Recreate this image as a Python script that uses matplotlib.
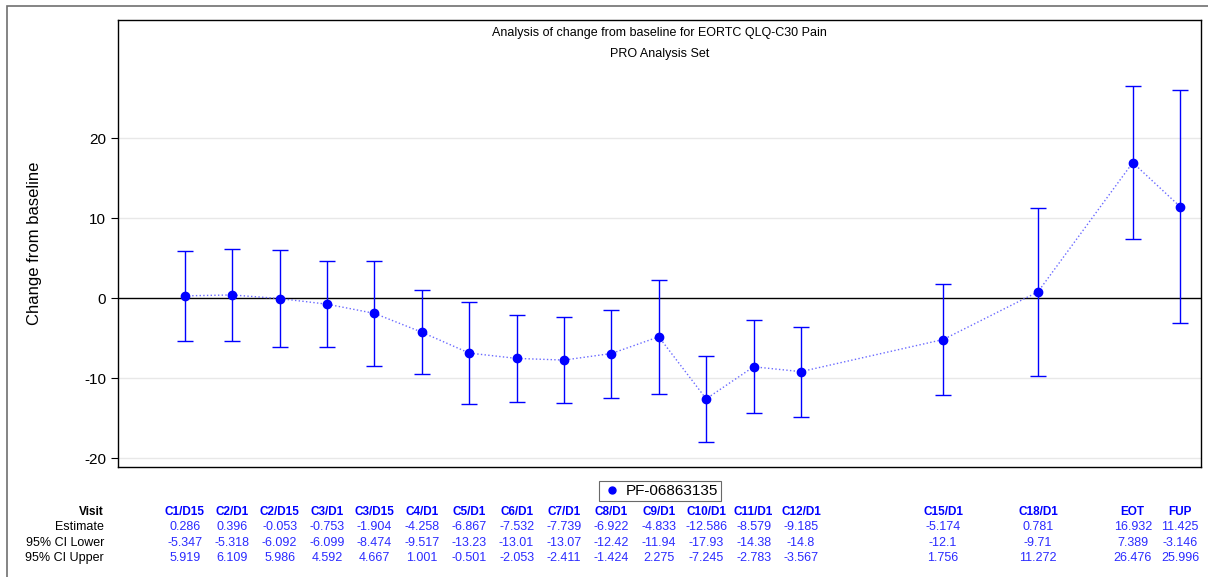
import matplotlib
matplotlib.use("Agg")
import matplotlib.pyplot as plt
from matplotlib.lines import Line2D
from matplotlib.patches import Rectangle

plt.rcParams["font.family"] = ["Liberation Sans", "DejaVu Sans"]
plt.rcParams["axes.unicode_minus"] = False

visits = ["C1/D15", "C2/D1", "C2/D15", "C3/D1", "C3/D15", "C4/D1", "C5/D1",
          "C6/D1", "C7/D1", "C8/D1", "C9/D1", "C10/D1", "C11/D1", "C12/D1",
          "C15/D1", "C18/D1", "EOT", "FUP"]
visit_pos = [0, 1, 2, 3, 4, 5, 6, 7, 8, 9, 10, 11, 12, 13, 16, 18, 20, 21]

estimate = [0.286, 0.396, -0.053, -0.753, -1.904, -4.258, -6.867, -7.532, -7.739,
            -6.922, -4.833, -12.586, -8.579, -9.185, -5.174, 0.781, 16.932, 11.425]
ci_lower = [-5.347, -5.318, -6.092, -6.099, -8.474, -9.517, -13.23, -13.01, -13.07,
            -12.42, -11.94, -17.93, -14.38, -14.8, -12.1, -9.71, 7.389, -3.146]
ci_upper = [5.919, 6.109, 5.986, 4.592, 4.667, 1.001, -0.501, -2.053, -2.411,
            -1.424, 2.275, -7.245, -2.783, -3.567, 1.756, 11.272, 26.476, 25.996]

est_txt = ["0.286", "0.396", "-0.053", "-0.753", "-1.904", "-4.258", "-6.867", "-7.532",
           "-7.739", "-6.922", "-4.833", "-12.586", "-8.579", "-9.185", "-5.174", "0.781",
           "16.932", "11.425"]
low_txt = ["-5.347", "-5.318", "-6.092", "-6.099", "-8.474", "-9.517", "-13.23", "-13.01",
           "-13.07", "-12.42", "-11.94", "-17.93", "-14.38", "-14.8", "-12.1", "-9.71",
           "7.389", "-3.146"]
up_txt = ["5.919", "6.109", "5.986", "4.592", "4.667", "1.001", "-0.501", "-2.053",
          "-2.411", "-1.424", "2.275", "-7.245", "-2.783", "-3.567", "1.756", "11.272",
          "26.476", "25.996"]

blue = "#0000ff"

fig = plt.figure(figsize=(12.08, 5.77), dpi=100)
ax = fig.add_axes([118 / 1208, 1 - 467 / 577, (1201 - 118) / 1208, (467 - 20) / 577])

# outer frame (left and top edge visible)
fig.add_artist(Rectangle((7 / 1208, -0.1), 1.2, 1 - 6 / 577 + 0.1, transform=fig.transFigure,
                         fill=False, edgecolor="#707070", linewidth=1.2))

yerr = [[e - l for e, l in zip(estimate, ci_lower)], [u - e for e, u in zip(estimate, ci_upper)]]
ax.plot(visit_pos, estimate, linestyle=":", color="#6a6aff", linewidth=1.0, zorder=3)
ax.errorbar(visit_pos, estimate, yerr=yerr, fmt="none", ecolor=blue, elinewidth=1.0,
            capsize=6, capthick=1.0, zorder=4)
ax.plot(visit_pos, estimate, "o", color=blue, markersize=6, zorder=5)

ax.axhline(0, color="black", linewidth=1.0, zorder=2)
for yv in [-20, -10, 10, 20]:
    ax.axhline(yv, color="#e8e8e8", linewidth=1.0, zorder=1)

ax.set_xlim(-1.41, 21.44)
ax.set_ylim(-21.1, 34.75)
ax.set_yticks([-20, -10, 0, 10, 20])
ax.set_xticks([])
ax.tick_params(axis="y", labelsize=11, length=5, width=0.8)
ax.set_ylabel("Change from baseline", fontsize=12)
ax.yaxis.set_label_coords((42 - 118) / 1083, 0.5)
for s in ax.spines.values():
    s.set_linewidth(1.0)

ax.text(0.5, 0.972, "Analysis of change from baseline for EORTC QLQ-C30 Pain",
        transform=ax.transAxes, ha="center", va="center", fontsize=9)
ax.text(0.5, 0.925, "PRO Analysis Set", transform=ax.transAxes,
        ha="center", va="center", fontsize=9)

# legend
handle = Line2D([], [], marker="o", color=blue, linestyle="none", markersize=5)
leg = fig.legend([handle], ["PF-06863135"], loc="center", bbox_to_anchor=(660 / 1208, 1 - 491 / 577),
                 fontsize=11, frameon=True, fancybox=False, edgecolor="#444444",
                 handletextpad=0.3, borderpad=0.2, handlelength=1.2, borderaxespad=0)
leg.get_frame().set_linewidth(0.8)

# table below axes
rows = [("Visit", visits, True), ("Estimate", est_txt, False),
        ("95% CI Lower", low_txt, False), ("95% CI Upper", up_txt, False)]
row_y = [512, 527, 543, 558]
for (label, vals, bold), ypx in zip(rows, row_y):
    yf = 1 - ypx / 577
    fs = 8.5 if bold else 9
    fig.text(104 / 1208, yf, label, ha="right", va="center", fontsize=fs,
             fontweight="bold" if bold else "normal")
    for xp, v in zip(visit_pos, vals):
        xf = fig.transFigure.inverted().transform(ax.transData.transform((xp, 0)))[0]
        fig.text(xf, yf, v, ha="center", va="center", fontsize=fs,
                 color="#0000ff" if bold else "#2b2bff",
                 fontweight="bold" if bold else "normal")

fig.savefig("out.png", dpi=100)
